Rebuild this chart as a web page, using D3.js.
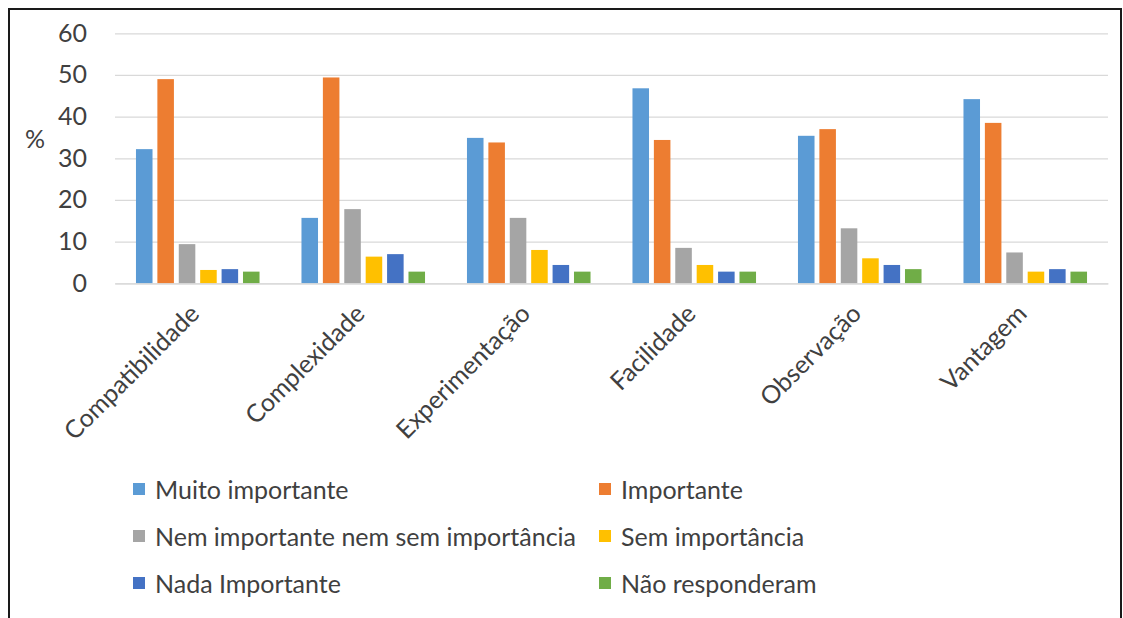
<!DOCTYPE html>
<html>
<head>
<meta charset="utf-8">
<script src="https://cdn.jsdelivr.net/npm/d3@7/dist/d3.min.js"></script>
<style>
  html, body { margin: 0; padding: 0; background: #fff; }
  svg { display: block; }
  text { font-family: Lato, "Open Sans", sans-serif; fill: #404040; }
</style>
</head>
<body>
<svg id="chart" width="1123" height="618"></svg>
<script>
// Criteria evaluated in the survey
const categories = ["Compatibilidade", "Complexidade", "Experimentação", "Facilidade", "Observação", "Vantagem"];

// Response options (legend order)
const seriesNames = [
  "Muito importante",
  "Importante",
  "Nem importante nem sem importância",
  "Sem importância",
  "Nada Importante",
  "Não responderam"
];

// Percentages per response option, one value per criterion
const muitoImportante   = [32.2, 15.7, 34.9, 46.8, 35.4, 44.2];
const importante        = [49.0, 49.4, 33.8, 34.4, 37.0, 38.5];
const nemImportante     = [9.4, 17.8, 15.7, 8.5, 13.2, 7.4];
const semImportancia    = [3.2, 6.4, 8.0, 4.4, 6.0, 2.8];
const nadaImportante    = [3.4, 7.0, 4.4, 2.8, 4.4, 3.4];
const naoResponderam    = [2.8, 2.8, 2.8, 2.8, 3.4, 2.8];

const seriesValues = [muitoImportante, importante, nemImportante, semImportancia, nadaImportante, naoResponderam];
const seriesColors = ["#5B9BD5", "#ED7D31", "#A5A5A5", "#FFC000", "#4472C4", "#70AD47"];

const yTicks = [0, 10, 20, 30, 40, 50, 60];

const svg = d3.select("#chart");
const W = 1123, H = 618;

// Frame around the chart area
svg.append("path")
  .attr("d", `M9,${H} L9,9 L1121,9 L1121,${H}`)
  .attr("fill", "none")
  .attr("stroke", "#1a1a1a")
  .attr("stroke-width", 2);

const plot = { left: 115, right: 1108, top: 33.3, bottom: 283.3 };

const y = d3.scaleLinear().domain([0, 60]).range([plot.bottom, plot.top]);
const x0 = d3.scaleBand().domain(categories).range([plot.left, plot.right]).padding(0);
const x1 = d3.scaleBand().domain(seriesNames).range([0, x0.bandwidth()])
  .paddingInner(0.227).paddingOuter(0.98);

// Horizontal gridlines and y-axis labels
const yAxis = d3.axisLeft(y).tickValues(yTicks).tickSize(-(plot.right - plot.left)).tickPadding(28);
const gy = svg.append("g").attr("transform", `translate(${plot.left},0)`).call(yAxis);
gy.select(".domain").remove();
gy.selectAll(".tick line").attr("stroke", "#d9d9d9").attr("stroke-width", 1.3);
gy.selectAll(".tick text")
  .attr("font-size", 25)
  .attr("fill", "#404040")
  .attr("font-family", "Lato, 'Open Sans', sans-serif");

// Y-axis title
svg.append("text")
  .attr("x", 35).attr("y", 138)
  .attr("text-anchor", "middle")
  .attr("dominant-baseline", "central")
  .attr("font-size", 25)
  .text("%");

// Bars
const groups = svg.append("g").selectAll("g")
  .data(categories)
  .join("g")
  .attr("transform", d => `translate(${x0(d)},0)`);

groups.selectAll("rect")
  .data((c, ci) => seriesNames.map((s, si) => ({ s, v: seriesValues[si][ci], color: seriesColors[si] })))
  .join("rect")
  .attr("x", d => x1(d.s))
  .attr("width", x1.bandwidth())
  .attr("y", d => y(d.v))
  .attr("height", d => y(0) - y(d.v))
  .attr("fill", d => d.color);

// Category axis
const xAxis = d3.axisBottom(x0).tickSize(0).tickFormat("");
const gx = svg.append("g").attr("transform", `translate(0,${plot.bottom})`).call(xAxis);
gx.select(".domain").attr("stroke", "#d9d9d9").attr("stroke-width", 1.3);

// Rotated category labels
svg.append("g").selectAll("text")
  .data(categories)
  .join("text")
  .attr("text-anchor", "end")
  .attr("font-size", 25)
  .attr("transform", d => `translate(${x0(d) + x0.bandwidth() / 2 + 3},${plot.bottom + 32}) rotate(-45)`)
  .text(d => d);

// Legend: two columns, three rows
const legendCols = [133, 599];
const legendRows = [489, 536, 583];
const legend = svg.append("g").selectAll("g")
  .data(seriesNames)
  .join("g")
  .attr("transform", (d, i) => `translate(${legendCols[i % 2]},${legendRows[Math.floor(i / 2)]})`);

legend.append("rect")
  .attr("x", 0).attr("y", -6)
  .attr("width", 12).attr("height", 12)
  .attr("fill", (d, i) => seriesColors[i]);

legend.append("text")
  .attr("x", 22).attr("y", 0)
  .attr("dominant-baseline", "central")
  .attr("font-size", 25)
  .text(d => d);
</script>
</body>
</html>
